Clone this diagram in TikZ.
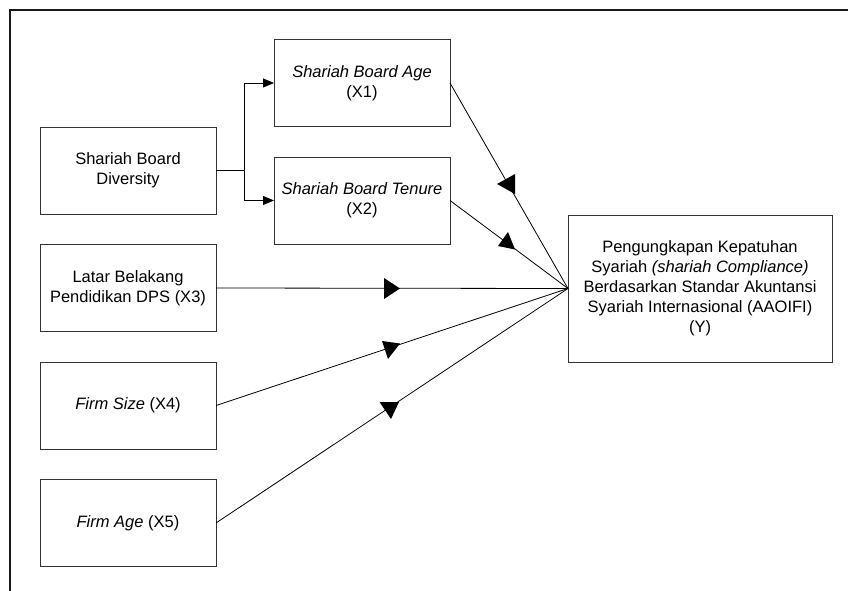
\documentclass[tikz,border=0pt]{standalone}
\usepackage{fontspec}
\setmainfont{Liberation Sans}
\usetikzlibrary{arrows.meta}
\begin{document}
\begin{tikzpicture}[x=1pt,y=-1pt,
  box/.style={draw=black!80, line width=0.9pt, minimum width=176pt, minimum height=87pt,
    align=center, font=\fontsize{16.5}{20}\selectfont, inner sep=0pt, outer sep=0pt},
  conn/.style={draw=black, line width=0.8pt},
  tip/.style={conn, -{Triangle[length=11pt,width=9pt]}},
  midtri/.style={fill=black}]
\useasboundingbox (0,0) rectangle (848,591);
% frame
\draw[line width=1.5pt, black!90] (10,591) -- (10,10) -- (848,10);
% nodes
\node[box] (div) at (128,170.5) {Shariah Board\\Diversity};
\node[box] (x1) at (362,83) {\textit{Shariah Board Age}\\(X1)};
\node[box] (x2) at (362,200.5) {\textit{Shariah Board Tenure}\\(X2)};
\node[box] (x3) at (128,288) {Latar Belakang\\Pendidikan DPS (X3)};
\node[box] (x4) at (128,405.5) {\textit{Firm Size} (X4)};
\node[box] (x5) at (128,523) {\textit{Firm Age} (X5)};
\node[box, minimum width=264pt, minimum height=147pt] (y) at (700,288.5)
  {Pengungkapan Kepatuhan\\Syariah \textit{(shariah Compliance)}\\Berdasarkan Standar Akuntansi\\Syariah Internasional (AAOIFI)\\(Y)};
% elbow connectors
\draw[conn] (div.east) -- ++(28,0) coordinate (j);
\draw[tip] (j) |- (x1.west);
\draw[tip] (j) |- (x2.west);
% connectors to Y
\draw[conn] (x1.east) -- (y.west);
\draw[conn] (x2.east) -- (y.west);
\draw[conn] (x3.east) -- (y.west);
\draw[conn] (x4.east) -- (y.west);
\draw[conn] (x5.east) -- (y.west);
% mid arrowheads
\fill[midtri] (497,184) -- (515,174) -- (515,194) -- cycle;
\fill[midtri] (508,232) -- (498,246) -- (515,249.5) -- cycle;
\fill[midtri] (384,278) -- (384,299) -- (400,288.5) -- cycle;
\fill[midtri] (382,341) -- (400,343.5) -- (388,359) -- cycle;
\fill[midtri] (379.5,402) -- (399,402) -- (391,419) -- cycle;
\end{tikzpicture}
\end{document}
